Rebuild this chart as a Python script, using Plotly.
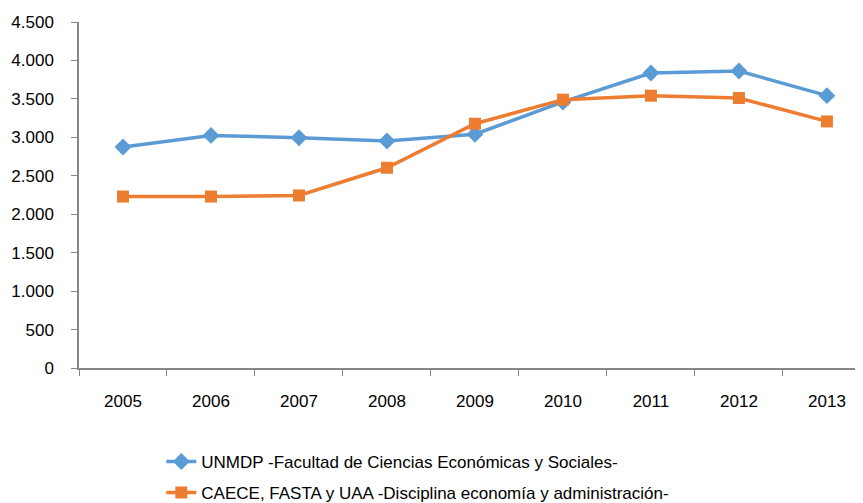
import plotly.graph_objects as go

years = ["2005", "2006", "2007", "2008", "2009", "2010", "2011", "2012", "2013"]
unmdp = [2874, 3025, 2995, 2952, 3040, 3460, 3837, 3863, 3542]
privadas = [2230, 2230, 2244, 2604, 3177, 3490, 3542, 3511, 3207]
name_unmdp = "UNMDP -Facultad de Ciencias Económicas y Sociales-"
name_priv = "CAECE, FASTA y UAA -Disciplina economía y administración-"
y_ticks = [0, 500, 1000, 1500, 2000, 2500, 3000, 3500, 4000, 4500]

BLUE = "#5B9BD5"
ORANGE = "#ED7D31"
FONT = "Liberation Sans"
FS = 17

fig = go.Figure()
fig.add_trace(go.Scatter(
    x=years, y=unmdp, name=name_unmdp, mode="lines+markers",
    line=dict(color=BLUE, width=3.5),
    marker=dict(symbol="diamond", size=13, color=BLUE),
    legend="legend",
))
fig.add_trace(go.Scatter(
    x=years, y=privadas, name=name_priv, mode="lines+markers",
    line=dict(color=ORANGE, width=3.5),
    marker=dict(symbol="square", size=12, color=ORANGE),
    legend="legend2",
))

# page body has an 8px default margin, so the figure is sized to fit the window
fig.update_layout(
    width=855, height=495,
    margin=dict(l=71, r=0, t=14, b=135, autoexpand=False),
    paper_bgcolor="white", plot_bgcolor="white",
    separators=",.",
    font=dict(family=FONT, size=FS, color="#000000"),
    showlegend=True,
    legend=dict(x=0.105, y=-0.2717, xanchor="left", yanchor="middle",
                bgcolor="rgba(0,0,0,0)", font=dict(family=FONT, size=FS)),
    legend2=dict(x=0.105, y=-0.3613, xanchor="left", yanchor="middle",
                 bgcolor="rgba(0,0,0,0)", font=dict(family=FONT, size=FS)),
)
fig.update_xaxes(
    type="category", range=[-0.5, 8.41],
    showline=True, linecolor="#868686", linewidth=1.5,
    ticks="outside", tickson="boundaries", ticklen=6, tickcolor="#868686",
    showgrid=False, zeroline=False, ticklabelstandoff=17,
)
fig.update_yaxes(
    range=[0, 4500], tickvals=y_ticks, tickformat=",d",
    showline=True, linecolor="#868686", linewidth=1.5,
    ticks="outside", ticklen=6, tickcolor="#868686",
    showgrid=False, zeroline=False, ticklabelstandoff=14,
)

fig.write_html("out.html")
